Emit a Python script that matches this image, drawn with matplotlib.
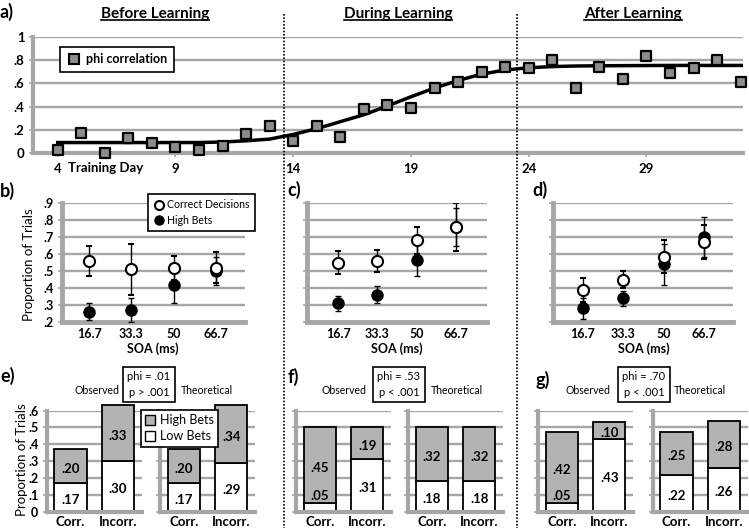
import matplotlib
matplotlib.use('Agg')
import numpy as np
import matplotlib.pyplot as plt
from matplotlib.lines import Line2D
from matplotlib.patches import Patch

plt.rcParams['font.family'] = ['Lato', 'DejaVu Sans']

W, H = 749, 528
GRID = '#a6a6a6'
SQ_GRAY = '#8c8c8c'
BAR_GRAY = '#b3b3b3'

# ---- panel a: phi correlation per training day
days = list(range(4, 34))
phi = [0.03, 0.17, 0.00, 0.13, 0.085, 0.055, 0.025, 0.06, 0.16, 0.23,
       0.10, 0.23, 0.14, 0.38, 0.41, 0.39, 0.56, 0.61, 0.70, 0.74,
       0.73, 0.80, 0.56, 0.74, 0.64, 0.84, 0.69, 0.73, 0.80, 0.61]
# fitted curve at each day
fit_days = list(range(4, 34)) + [33.1]
fit_vals = [0.09, 0.09, 0.09, 0.09, 0.09, 0.09, 0.09, 0.095, 0.105, 0.12,
            0.16, 0.21, 0.27, 0.33, 0.405, 0.485, 0.56, 0.625, 0.68, 0.715,
            0.735, 0.745, 0.75, 0.752, 0.753, 0.754, 0.755, 0.755, 0.755, 0.755,
            0.755]
a_xticks = [4, 9, 14, 19, 24, 29]
a_yticks = [0, 0.2, 0.4, 0.6, 0.8, 1.0]
a_ylabels = ['0', '.2', '.4', '.6', '.8', '1']

# ---- panels b, c, d: proportion of trials by SOA
soa_labels = ['16.7', '33.3', '50', '66.7']
b_correct = [0.56, 0.51, 0.52, 0.52]
b_correct_err = [0.09, 0.15, 0.07, 0.09]
b_high = [0.26, 0.27, 0.42, 0.50]
b_high_err = [0.05, 0.07, 0.11, 0.08]
c_correct = [0.55, 0.56, 0.68, 0.76]
c_correct_err = [0.065, 0.065, 0.08, 0.14]
c_high = [0.31, 0.36, 0.565, 0.76]
c_high_err = [0.045, 0.05, 0.095, 0.11]
d_correct = [0.39, 0.45, 0.585, 0.67]
d_correct_err = [0.07, 0.05, 0.095, 0.10]
d_high = [0.28, 0.34, 0.54, 0.70]
d_high_err = [0.06, 0.045, 0.12, 0.12]
soa_yticks = [0.2, 0.3, 0.4, 0.5, 0.6, 0.7, 0.8, 0.9]
soa_ylabels = ['.2', '.3', '.4', '.5', '.6', '.7', '.8', '.9']

# ---- panels e, f, g: low / high bets for correct and incorrect decisions
bet_cats = ['Corr.', 'Incorr.']
e_obs_low, e_obs_high = [0.17, 0.30], [0.20, 0.33]
e_theo_low, e_theo_high = [0.17, 0.29], [0.20, 0.34]
f_obs_low, f_obs_high = [0.05, 0.31], [0.45, 0.19]
f_theo_low, f_theo_high = [0.18, 0.18], [0.32, 0.32]
g_obs_low, g_obs_high = [0.05, 0.43], [0.42, 0.10]
g_theo_low, g_theo_high = [0.22, 0.26], [0.25, 0.28]
phi_texts = ['phi = .01\np > .001', 'phi = .53\np < .001', 'phi = .70\np < .001']
bar_yticks = [0, 0.1, 0.2, 0.3, 0.4, 0.5, 0.6]
bar_ylabels = ['0', '.1', '.2', '.3', '.4', '.5', '.6']


def box(x0, y0, x1, y1):
    return [x0 / W, 1 - y1 / H, (x1 - x0) / W, (y1 - y0) / H]


def ftext(x, y, s, **kw):
    return fig.text(x / W, 1 - y / H, s, **kw)


def style(ax, lw=3):
    for s in ['top', 'right']:
        ax.spines[s].set_visible(False)
    for s in ['left', 'bottom']:
        ax.spines[s].set_color(GRID)
        ax.spines[s].set_linewidth(lw)
    ax.grid(axis='y', color=GRID, lw=1.7)
    ax.set_axisbelow(True)
    ax.tick_params(axis='y', length=3, width=1.2, color=GRID, pad=3)
    ax.tick_params(axis='x', length=0)


fig = plt.figure(figsize=(W / 100, H / 100), dpi=100)

# ---------------- panel a
ax = fig.add_axes(box(33, 37, 743, 153))
style(ax)
ax.plot(fit_days, fit_vals, color='k', lw=2.5, zorder=3)
ax.scatter(days, phi, marker='s', s=60, c=SQ_GRAY, edgecolors='k',
           linewidths=1.6, zorder=4, clip_on=False)
ax.set_xlim(2.95, 33.1)
ax.set_ylim(0, 1)
ax.set_yticks(a_yticks, a_ylabels, fontweight='bold', fontsize=9.5)
ax.set_xticks(a_xticks, [str(d) for d in a_xticks], fontweight='bold', fontsize=9.5)
ax.tick_params(axis='x', length=3, width=1.2, color=GRID, pad=4)
ax.text(4.45, -0.125, 'Training Day', transform=ax.get_xaxis_transform(),
        ha='left', va='center', fontweight='bold', fontsize=9.5)
h = Line2D([], [], marker='s', ls='', mfc=SQ_GRAY, mec='k', ms=7.5, mew=1.5)
leg = ax.legend([h], ['phi correlation'], loc='upper left',
                bbox_to_anchor=(60 / W, 1 - 47 / H), bbox_transform=fig.transFigure,
                borderaxespad=0, fancybox=False, edgecolor='k', framealpha=1,
                prop={'weight': 'bold', 'size': 9}, handletextpad=0.4,
                borderpad=0.5, handlelength=1.2)
leg.get_frame().set_linewidth(1.2)

# ---------------- panels b, c, d
soa_panels = [
    (62, 245, (0.36, 4.69), b_correct, b_correct_err, b_high, b_high_err),
    (307, 487, (0.21, 4.79), c_correct, c_correct_err, c_high, c_high_err),
    (553, 733, (0.26, 4.72), d_correct, d_correct_err, d_high, d_high_err),
]
x = np.arange(1, 5)
for i, (x0, x1, xl, corr, corr_err, high, high_err) in enumerate(soa_panels):
    ax = fig.add_axes(box(x0, 203, x1, 322))
    style(ax, lw=3.5)
    ax.set_xlim(xl)
    ax.set_ylim(0.2, 0.9)
    ax.errorbar(x, high, yerr=high_err, fmt='o', mfc='k', mec='k', ms=8,
                ecolor='k', elinewidth=1, capsize=2, capthick=1, zorder=3)
    ax.errorbar(x, corr, yerr=corr_err, fmt='o', mfc='white', mec='k', ms=8,
                mew=1.5, ecolor='k', elinewidth=1, capsize=2, capthick=1, zorder=4)
    ax.set_yticks(soa_yticks)
    if i == 0:
        ax.set_yticklabels(soa_ylabels, fontweight='bold', fontsize=9)
        hc = Line2D([], [], marker='o', ls='', mfc='white', mec='k', ms=6.5, mew=1.5)
        hh = Line2D([], [], marker='o', ls='', mfc='k', mec='k', ms=6.5)
        lg = ax.legend([hc, hh], ['Correct Decisions', 'High Bets'], loc='upper left',
                       bbox_to_anchor=(148 / W, 1 - 194 / H),
                       bbox_transform=fig.transFigure, borderaxespad=0,
                       fancybox=False, edgecolor='k', framealpha=1,
                       prop={'size': 7.6}, handletextpad=0.3, borderpad=0.5,
                       handlelength=1.0, labelspacing=0.45)
        lg.get_frame().set_linewidth(1.2)
    else:
        ax.set_yticklabels([])
    ax.set_xticks(x, soa_labels, fontweight='bold', fontsize=9)
    ax.tick_params(axis='x', pad=4)
    ax.text(2.5, -0.225, 'SOA (ms)', transform=ax.get_xaxis_transform(),
            ha='center', va='center', fontweight='bold', fontsize=9)

# ---------------- panels e, f, g
bar_panels = [
    (46.7, e_obs_low, e_obs_high, True),
    (160, e_theo_low, e_theo_high, False),
    (296, f_obs_low, f_obs_high, False),
    (408, f_theo_low, f_theo_high, False),
    (538, g_obs_low, g_obs_high, False),
    (652.7, g_theo_low, g_theo_high, False),
]
pos = np.arange(1, 3)
for k, (x0, low, high, showy) in enumerate(bar_panels):
    ax = fig.add_axes(box(x0, 410.5, x0 + 95, 511.7))
    style(ax, lw=3)
    ax.set_xlim(0.5, 2.5)
    ax.set_ylim(0, 0.6)
    ax.bar(pos, low, 0.68, color='white', edgecolor='k', lw=1.3, clip_on=False, zorder=2)
    ax.bar(pos, high, 0.68, bottom=low, color=BAR_GRAY, edgecolor='k', lw=1.3,
           clip_on=False, zorder=2)
    for p, lo, hi in zip(pos, low, high):
        ylo = lo + 0.045 if lo < 0.08 else lo / 2 - 0.015
        ax.text(p, ylo, '.%02d' % round(lo * 100), ha='center', va='center',
                fontweight='bold', fontsize=9.5, zorder=5)
        ax.text(p, lo + hi / 2 - 0.015, '.%02d' % round(hi * 100), ha='center',
                va='center', fontweight='bold', fontsize=9.5, zorder=5)
    ax.set_yticks(bar_yticks)
    if showy:
        ax.set_yticklabels(bar_ylabels, fontweight='bold', fontsize=9)
    else:
        ax.set_yticklabels([])
    ax.set_xticks(pos, bet_cats, fontweight='bold', fontsize=9.5)
    ax.tick_params(axis='x', pad=3)

lg = fig.legend([Patch(fc=BAR_GRAY, ec='k'), Patch(fc='white', ec='k')],
                ['High Bets', 'Low Bets'], loc='upper left',
                bbox_to_anchor=(141 / W, 1 - 410 / H), borderaxespad=0,
                fancybox=False, edgecolor='k', framealpha=1, prop={'size': 9},
                handlelength=0.8, handleheight=0.8, handletextpad=0.35,
                borderpad=0.35, labelspacing=0.3)
lg.get_frame().set_linewidth(1.2)

for cx, ox, tx, s in [(149, 96.7, 206.7, phi_texts[0]),
                      (399, 344, 457, phi_texts[1]),
                      (644, 588, 700, phi_texts[2])]:
    ftext(cx, 384.5, s, ha='center', va='center', fontsize=8, linespacing=1.55,
          bbox=dict(boxstyle='square,pad=0.4', fc='white', ec='k', lw=1.2))
    ftext(ox, 390, 'Observed', ha='center', va='center', fontsize=7.6)
    ftext(tx, 390, 'Theoretical', ha='center', va='center', fontsize=7.6)

# ---------------- figure labels
for s, px_, py_ in [('a)', 0, 12), ('b)', 0, 191), ('c)', 287, 190), ('d)', 532, 190),
                    ('e)', 0, 376), ('f)', 288, 377), ('g)', 535, 380)]:
    ftext(px_, py_, s, ha='left', va='center', fontweight='bold', fontsize=13)

ftext(29, 265, 'Proportion of Trials', rotation=90, ha='center', va='center', fontsize=9.5)
ftext(22, 460, 'Proportion of Trials', rotation=90, ha='center', va='center', fontsize=9.5)

titles = []
for s, cx in [('Before Learning', 155), ('During Learning', 398), ('After Learning', 633)]:
    titles.append(ftext(cx, 14, s, ha='center', va='center', fontweight='bold', fontsize=11))

for xd in [284, 517]:
    fig.add_artist(Line2D([xd / W, xd / W], [1 - 14 / H, 0], transform=fig.transFigure,
                          color='k', lw=1.2, ls=(0, (1, 1))))

fig.canvas.draw()
r = fig.canvas.get_renderer()
for t in titles:
    bb = t.get_window_extent(r)
    yl = (bb.y0 + 1) / H
    fig.add_artist(Line2D([bb.x0 / W, bb.x1 / W], [yl, yl], transform=fig.transFigure,
                          color='k', lw=1.2))

fig.savefig('out.png', dpi=100)
